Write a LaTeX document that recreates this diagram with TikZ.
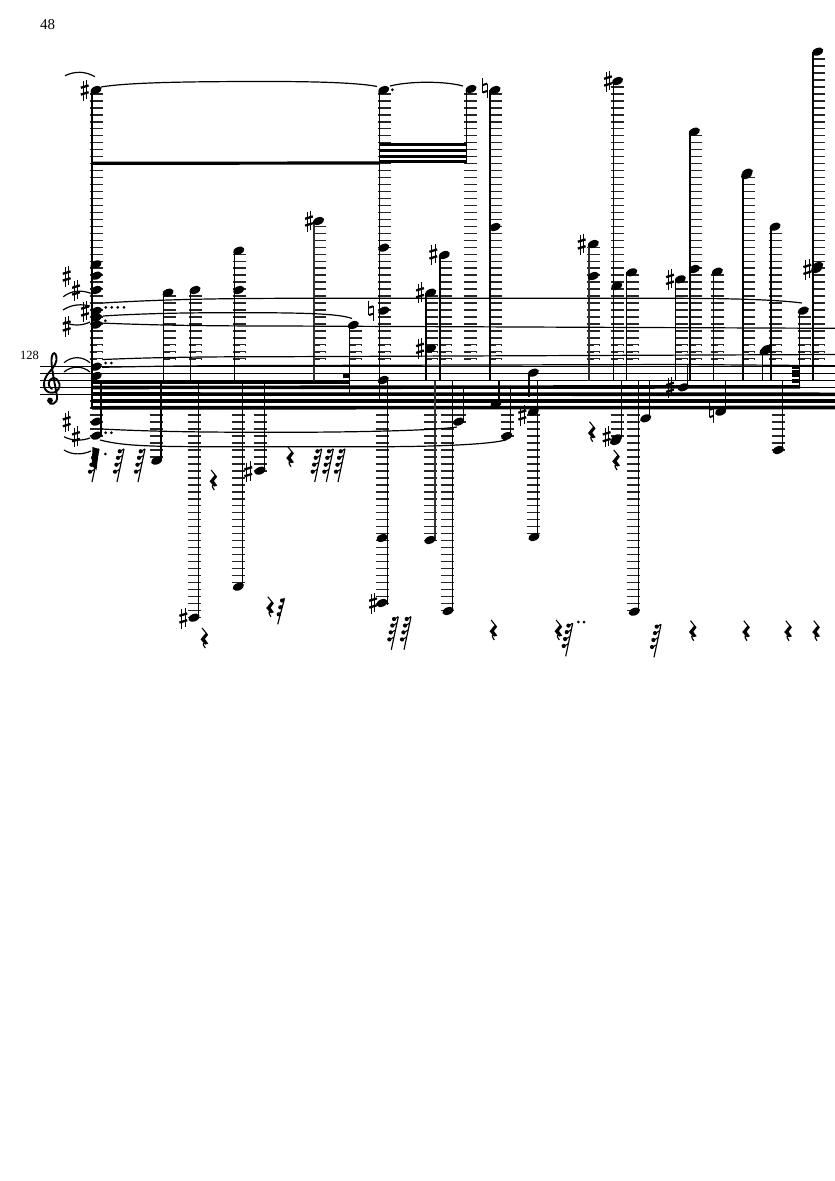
\documentclass[tikz,border=0pt]{standalone}
\usepackage{fontspec}
\setmainfont{Liberation Serif}
\newcommand{\LedgerUp}[2]{%
  \foreach \p in {1,...,#2}{\draw[ledger] (#1-6.5,366-6.98*\p) -- (#1+6.5,366-6.98*\p);}%
  \ifnum#2>2 \foreach \p in {1,2,3}{\draw[ledgerhole] (#1+1,366-6.98*\p) -- (#1+5.5,366-6.98*\p);}\fi}
\newcommand{\LedgerDown}[2]{%
  \foreach \p in {1,...,#2}{\draw[ledger] (#1-6.5,394+6.98*\p) -- (#1+6.5,394+6.98*\p);}}
\newcommand{\NoteHead}[2]{\fill[rotate around={22:(#1,#2)}] (#1,#2) ellipse [x radius=5.9,y radius=3.7];}
\newcommand{\SharpSign}[2]{\begin{scope}[shift={(#1,#2)}]
  \draw[line width=1] (-1.7,-9) -- (-1.7,10.5) (1.7,-10.5) -- (1.7,9);
  \draw[line width=2.3] (-3.9,-2.2) -- (3.9,-4.6) (-3.9,4.6) -- (3.9,2.2);
  \end{scope}}
\newcommand{\NaturalSign}[2]{\begin{scope}[shift={(#1,#2)}]
  \draw[line width=1] (-2.2,-10) -- (-2.2,4.5) (2.2,-4.5) -- (2.2,10);
  \draw[line width=2] (-2.2,-3) -- (2.2,-4.4) (-2.2,4.4) -- (2.2,3);
  \end{scope}}
\newcommand{\QuarterRest}[2]{\begin{scope}[shift={(#1,#2)}]
  \draw[line width=1.1,line join=round] (-2.2,-10) -- (3,-3.5);
  \fill (1.8,-5.5) -- (3.8,-3.2) -- (.6,1) -- (4,5.6) -- (1,6.5) -- (-3.8,1.4) -- cycle;
  \draw[line width=1.2] (2,5.8) .. controls (-1,3.8) and (-2.4,5.5) .. (1,10);
  \end{scope}}
\newcommand{\FlagRest}[2]{\begin{scope}[shift={(#1,#2)}]
  \draw[line width=1.15] (0,0) -- (-7,33);
  \foreach \dx/\dy in {-4.3/2.3,-6/8.8,-7.6/15.7,-9/22.7}{
    \fill (\dx,\dy) circle [radius=2.1];
    \draw[line width=1.1] (\dx,\dy+.5) -- (-.21*\dy+.4,\dy-2.4);}
  \end{scope}}
\newcommand{\ShortFlagRest}[2]{\begin{scope}[shift={(#1,#2)}]
  \draw[line width=1.15] (0,0) -- (-6.6,25);
  \foreach \dx/\dy in {-2.3/1.2,-4/8,-5.6/15}{
    \fill (\dx,\dy) circle [radius=2.1];
    \draw[line width=1.1] (\dx,\dy+.5) -- (-.26*\dy+.4,\dy-2.4);}
  \end{scope}}
\begin{document}
\begin{tikzpicture}[x=1pt,y=-1pt,
  ledger/.style={line width=1.6,black!85},
  ledgerhole/.style={line width=.7,white},
  staffline/.style={line width=1},
  beamline/.style={line width=3.6},
  thinstem/.style={line width=1.3},
  midstem/.style={line width=2,black!80},
  thickstem/.style={line width=2.2},
  tie/.style={line width=1.2},
  dotmark/.style={radius=1.5}]
\useasboundingbox (0,0) rectangle (835,1181);
\fill[white] (0,0) rectangle (835,1181);
\node[font=\fontsize{15}{17}\selectfont] (pagenumber) at (47.5,25) {48};
\node[font=\fontsize{12.5}{14}\selectfont] (barnumber) at (29.5,355) {128};
% ledger lines above
\foreach \xc/\n in {96/39,169/10,195/10,239/16,319/20,355/5,384/39,431/10,445/15,470/39,495/39,593/17,617/40,632/13,681/12,695/33,717/13,748/27,775/19,804/7,818/44}{\LedgerUp{\xc}{\n}}
% ledger lines below
\foreach \xc/\n in {96/6,156/9,194/32,238/27,260/11,382/30,430/21,447/31,459/4,507/6,533/20,617/6,633/31,778/8}{\LedgerDown{\xc}{\n}}
% staff
\foreach \yy in {366,373,380,387,394}{\draw[staffline] (40,\yy) -- (835,\yy);}
% clef
\draw[line width=1.9,line cap=round] (52,389) .. controls (47,387) and (48,379) .. (53,378) .. controls (60,378) and (63,389) .. (54,392.5) .. controls (45,394.5) and (41,385) .. (46.5,376) .. controls (50,370) and (55.5,367) .. (56.5,360) .. controls (57,355) and (54.5,351.5) .. (53,354) .. controls (50,358) and (52,368) .. (54,380) -- (57,396) .. controls (58,405) and (49,406) .. (49,401);
\fill (50,400.5) circle [radius=2.9];
% beams
\draw[beamline] (92,381.8) -- (349.5,381.8);
\draw[beamline] (92,387.5) -- (800,386.8);
\draw[beamline] (92,394) -- (835,394.3);
\draw[beamline] (92,400.7) -- (835,400.7);
\draw[beamline] (92,407.8) -- (835,407.5);
\draw[line width=3.2] (92,163.3) -- (379.5,163);
\foreach \yy in {144.5,150.5,156.8,161.5}{\draw[line width=3] (379.3,\yy) -- (466.5,\yy);}
\fill (342.5,374) rectangle (349.5,377.5);
\fill (791.7,366) rectangle (800,368.5);
\fill (791.7,370) rectangle (800,372.7);
\fill (791.7,374.3) rectangle (800,377);
\fill (791.7,379) rectangle (800,382.7);
% stems up
\draw[thickstem] (92,90) -- (92,409);
\draw[thickstem] (490.3,90) -- (490.3,381);
\draw[thickstem] (742.7,173) -- (742.7,381);
\foreach \sx/\st/\sb in {163.7/293/381,190.3/290/381,234.3/251/381,349.3/325/393,379.3/90/403,426/293/381,440/255/381,466.5/90/163,613.3/81/381,626.7/272/381,675.7/279/381,690/131/381,713.7/272/381,762.3/349/381,771/227/381,799.3/311/387,813/52/381}{\draw[thinstem] (\sx,\st) -- (\sx,\sb);}
\draw[midstem] (314,221) -- (314,381);
\draw[midstem] (589,244) -- (589,381);
% stems down
\foreach \sx/\st/\sb in {101/381/436,161/382/461,198.8/382/617,242.5/382/587,264.3/382/471,387.3/381/605,452.4/381/611,463.3/389/421,499/381/404,510.7/389/436,529/373/397,537.7/381/537,621.7/381/438,638.6/381/612,649.3/381/418,687.7/364/387,725.3/381/411,782.7/381/450}{\draw[thinstem] (\sx,\st) -- (\sx,\sb);}
\draw[midstem] (435,381) -- (435,540);
% ties
\draw[tie] (65,75.7) .. controls (75,71) and (85,71) .. (95,76.7);
\draw[tie] (101,87) .. controls (130,82) and (200,81.5) .. (270,81.5) .. controls (320,81.5) and (360,83) .. (377,86.5);
\draw[tie] (390,86) .. controls (410,81) and (445,81) .. (463,86);
\draw[tie] (63.3,296.7) .. controls (72,290) and (82,290) .. (90.7,293.3);
\draw[tie] (63,310) .. controls (72,304) and (82,304) .. (90,306);
\draw[tie] (64,322) .. controls (72,326) and (82,326) .. (90,322);
\draw[tie] (64,362.7) .. controls (72,356) and (82,356) .. (90,362.7);
\draw[tie] (64,372) .. controls (72,365.5) and (82,365.5) .. (90,372);
\draw[tie] (64,436.7) .. controls (72,441) and (82,441) .. (90,438);
\draw[tie] (64,450) .. controls (72,455) and (82,455) .. (91,451);
\draw[tie] (103,303) .. controls (160,299.5) and (220,298.3) .. (300,298.3) -- (660,298.3) .. controls (720,298.3) and (770,299) .. (802,303);
\draw[tie] (103,316) .. controls (150,313) and (200,312.5) .. (260,312.7) .. controls (310,313) and (340,314) .. (352,318.5);
\draw[tie] (100,323) .. controls (160,325.5) and (220,326) .. (280,326) -- (835,328.3);
\draw[tie] (103,359.5) .. controls (160,357) and (220,356.7) .. (280,356.7) -- (835,354.5);
\draw[tie] (102,367.3) .. controls (160,366) and (220,365.5) .. (280,365.5) -- (680,364.5) -- (835,365.7);
\draw[tie] (101.7,429) .. controls (160,432) and (220,432.3) .. (280,432.3) .. controls (340,432.3) and (430,431) .. (457,427);
\draw[tie] (100,440) .. controls (120,445) and (140,446.5) .. (200,446.7) -- (380,446.7) .. controls (440,446.7) and (495,444) .. (507,439.5);
% note heads
\foreach \nx/\ny in {96/90,96/264.3,96.3/275.7,96.3/290,96.3/311,96.3/317.7,96.3/324.7,96.3/366.7,96.3/376,96.3/421.7,96.3/435.7,168/292.7,195/290,238.7/250.7,238.7/290,318.5/221,353.3/325,383.7/90,383.7/247.7,383.7/310.7,383.3/380,382/538,382/603,430.7/292.7,430.7/348.3,444.3/255,471/89,495/90,495/227,156.7/460.7,194/617.7,238.3/586.7,260/470.7,430/540,448/611,458.7/421.7,496/404,506.7/436,533.3/372.7,533.3/411.7,534/537,593.3/244,593.3/276,617.5/81,616.7/286,631.7/272.3,616.7/438.3,615.5/441,634.3/611.7,645.7/418.3,680.3/279.3,694.3/131.7,694.3/269,683.3/387.3,717.3/271.7,720.7/411.7,747.3/172.7,746.5/175,766.7/349,765/351,775/226.7,803.3/310.7,817.7/266,816.5/269,817.7/51.7,778.3/450}{\NoteHead{\nx}{\ny}}
% accidentals
\foreach \ax/\ay in {84.7/90,66.7/276,76/290,85/311,66.7/326,66.7/421.7,76/436.7,309/221,183.3/618,248.3/471.7,373/603,420/292.7,420/348.3,433.3/254,522.3/415,581.7/244,608/81,606.7/436.7,670/279.3,670/387.3,807.3/269.3}{\SharpSign{\ax}{\ay}}
\foreach \ax/\ay in {371/310.7,485/88,711.7/412.7}{\NaturalSign{\ax}{\ay}}
% dots
\foreach \dx/\dy in {105.7/307.3,111.7/307.3,117.7/307.3,124/307.3,105.3/320.7,105.7/363,111.3/363,105.7/432.7,111.3/432.7,105.3/454,392.3/89.7,578.3/622,584/622}{\fill (\dx,\dy) circle [dotmark];}
% rests
\foreach \rx/\ry in {213.3/480,204.3/638,270/606.7,290/456.7,493.3/630,558.3/630,591.7/431.7,616/460,692.7/630.7,746/630.7,788/630.7,816/630.7}{\QuarterRest{\rx}{\ry}}
\foreach \rx/\ry in {99/449,124/449,145/449,321.7/449,333.3/449,345/449,398.3/616.7,411/616.7,572.7/623.3,661/624.3}{\FlagRest{\rx}{\ry}}
\fill (92.5,447) -- (99,449) -- (96.5,470) -- (91.8,466) -- cycle;
\ShortFlagRest{284.3}{599.3}
\end{tikzpicture}
\end{document}
